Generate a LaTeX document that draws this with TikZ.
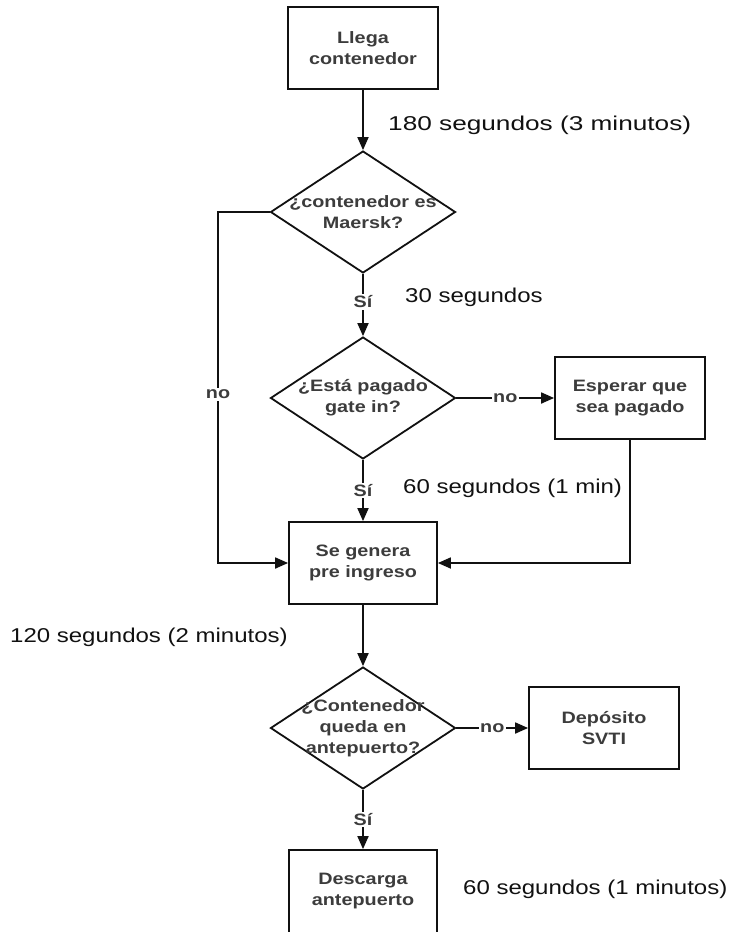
\documentclass[tikz,border=0pt]{standalone}
\usepackage{fontspec}
\newfontfamily\boxfont[FakeStretch=1.2]{Liberation Sans Bold}
\newfontfamily\timefont[FakeStretch=1.2]{Liberation Sans}
\newfontfamily\timefontwide[FakeStretch=1.31]{Liberation Sans}
\usetikzlibrary{shapes.geometric,arrows.meta}
\definecolor{ink}{HTML}{111111}
\definecolor{txt}{HTML}{3C3C3C}
\tikzset{
  line/.style={draw=ink, line width=1.8pt},
  arr/.style={line, -{Triangle[length=13pt,width=11pt]}},
  stepbox/.style={draw=ink, line width=1.8pt, rectangle, minimum width=150pt,
    minimum height=82pt, inner sep=0pt},
  dia/.style={draw=ink, line width=1.8pt, diamond, inner sep=0pt,
    minimum width=185pt, minimum height=122pt},
  intext/.style={text=txt, font=\boxfont\fontsize{16.5}{21}\selectfont,
    align=center, inner sep=0pt},
  tag/.style={text=txt, font=\boxfont\fontsize{16.5}{20}\selectfont,
    fill=white, inner sep=1.5pt},
  timelbl/.style={text=ink, font=\timefont\fontsize{20}{24}\selectfont,
    anchor=west, inner sep=0pt}
}
\begin{document}
\begin{tikzpicture}[x=1pt,y=-1pt]
\useasboundingbox[fill=white] (0,0) rectangle (731,932);

% process boxes and decisions
\node[stepbox] (llega) at (363,48) {};
\node[intext] at (llega) {Llega\\contenedor};

\node[dia] (maersk) at (363,212) {};
\node[intext] at (maersk) {¿contenedor es\\Maersk?};

\node[dia] (pagado) at (363,398) {};
\node[intext] at (pagado) {¿Está pagado\\gate in?};

\node[stepbox] (esperar) at (630,398) {};
\node[intext] at (esperar) {Esperar que\\sea pagado};

\node[stepbox, minimum width=148pt] (genera) at (363,563) {};
\node[intext] at (genera) {Se genera\\pre ingreso};

\node[dia] (queda) at (363,728) {};
\node[intext] at (queda) {¿Contenedor\\queda en\\antepuerto?};

\node[stepbox] (deposito) at (604,728) {};
\node[intext] at (deposito) {Depósito\\SVTI};

\node[stepbox, minimum width=148pt, minimum height=86pt] (descarga) at (363,893) {};
\node[intext] at (363,891) {Descarga\\antepuerto};

% connectors
\draw[arr] (llega.south) -- (maersk.north);
\draw[arr] (maersk.south) -- node[tag, pos=0.45] {Sí} (pagado.north);
\draw[arr] (pagado.east) -- node[tag] {no} (esperar.west);
\draw[arr] (pagado.south) -- node[tag] {Sí} (genera.north);
\draw[arr] (esperar.south) |- (genera.east);
\coordinate (leftbend) at (218,212);
\draw[arr] (maersk.west) -- (leftbend) |- node[tag, pos=0.26] {no} (genera.west);
\draw[arr] (genera.south) -- (queda.north);
\draw[arr] (queda.east) -- node[tag] {no} (deposito.west);
\draw[arr] (queda.south) -- node[tag] {Sí} (descarga.north);

% timing notes
\node[timelbl, font=\timefontwide\fontsize{20}{24}\selectfont] (t1) at (388,125) {180 segundos (3 minutos)};
\node[timelbl] (t2) at (405,297) {30 segundos};
\node[timelbl] (t3) at (403,488) {60 segundos (1 min)};
\node[timelbl] (t4) at (10,637) {120 segundos (2 minutos)};
\node[timelbl] (t5) at (463,889) {60 segundos (1 minutos)};
\end{tikzpicture}
\end{document}
